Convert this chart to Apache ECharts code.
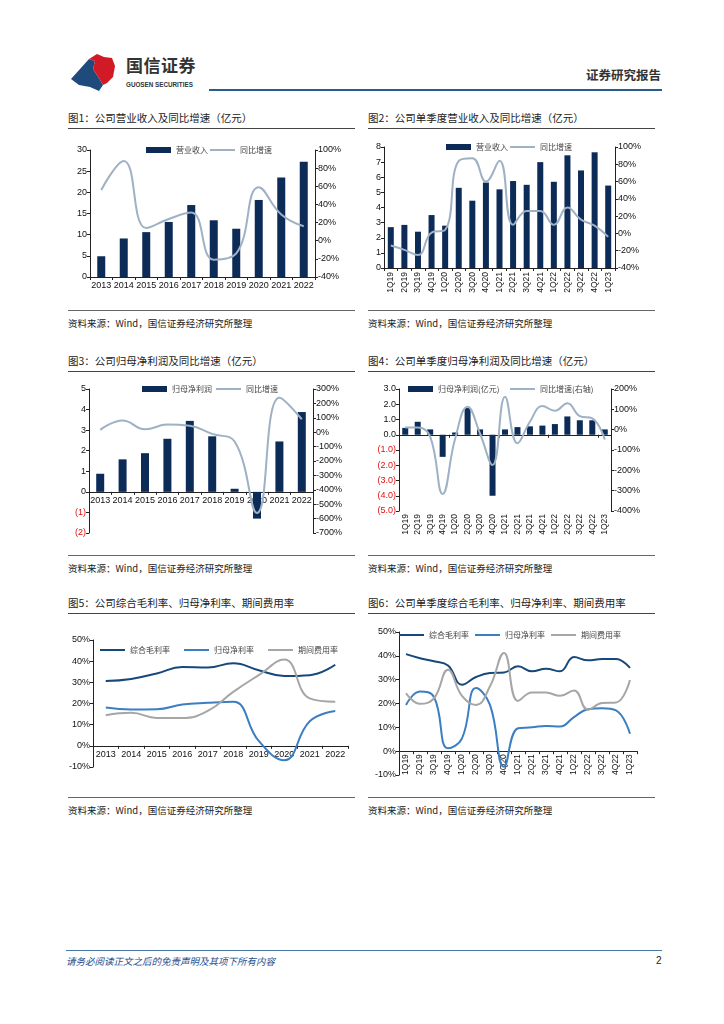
<!DOCTYPE html>
<html><head><meta charset="utf-8">
<script src="https://cdn.jsdelivr.net/npm/echarts@6/dist/echarts.min.js"></script>
<style>
html,body{margin:0;padding:0;background:#fff;}
body{width:724px;height:1024px;position:relative;overflow:hidden;font-family:"Noto Sans CJK SC","Liberation Sans",sans-serif;}
.abs{position:absolute;}
.title{position:absolute;font-size:10.5px;color:#222;white-space:nowrap;line-height:12px;}
.src{position:absolute;font-size:9.5px;color:#222;white-space:nowrap;line-height:12px;}
.hl{position:absolute;height:1px;background:#444;}
.chart{position:absolute;width:300px;height:180px;}
</style></head>
<body>
<!-- header -->
<svg class="abs" style="left:68px;top:50px" width="52" height="44" viewBox="0 0 52 44">
  <path d="M3 29 L21 9 L27 11 L25 19 L31 28 L35 35 L31 41 L22 37 L11 35 Z" fill="#1e4b7c"/>
  <path d="M21 9 L29 4 L36 7 L44 8 L47 16 L45 27 L39 33 L35 35 L31 28 L25 19 L27 11 Z" fill="#d21a26"/>
</svg>
<div class="abs" style="left:126px;top:55px;font-size:17px;font-weight:bold;color:#333;letter-spacing:0.5px;line-height:20px;">国信证券</div>
<div class="abs" style="left:126px;top:81px;font-size:6.3px;font-weight:bold;color:#333;font-family:'Liberation Sans';line-height:8px;">GUOSEN SECURITIES</div>
<div class="abs" style="left:586px;top:67px;font-size:12.5px;font-weight:bold;color:#333;line-height:15px;">证券研究报告</div>
<div class="abs" style="left:209px;top:89px;width:453px;height:2px;background:#2a5b8e;"></div>

<!-- row 1 -->
<div class="title" style="left:68px;top:112px;">图1：公司营业收入及同比增速（亿元）</div>
<div class="hl" style="left:68px;top:128px;width:287px;"></div>
<div class="title" style="left:368px;top:112px;">图2：公司单季度营业收入及同比增速（亿元）</div>
<div class="hl" style="left:368px;top:128px;width:287px;"></div>
<div id="c1" class="chart" style="left:60px;top:130px;height:178px;"></div>
<div id="c2" class="chart" style="left:360px;top:130px;height:178px;"></div>
<div class="hl" style="left:68px;top:310px;width:287px;background:#666;"></div>
<div class="hl" style="left:368px;top:310px;width:287px;background:#666;"></div>
<div class="src" style="left:68px;top:317px;">资料来源：Wind，国信证券经济研究所整理</div>
<div class="src" style="left:368px;top:317px;">资料来源：Wind，国信证券经济研究所整理</div>

<!-- row 2 -->
<div class="title" style="left:68px;top:355px;">图3：公司归母净利润及同比增速（亿元）</div>
<div class="hl" style="left:68px;top:371px;width:287px;"></div>
<div class="title" style="left:368px;top:355px;">图4：公司单季度归母净利润及同比增速（亿元）</div>
<div class="hl" style="left:368px;top:371px;width:287px;"></div>
<div id="c3" class="chart" style="left:60px;top:373px;"></div>
<div id="c4" class="chart" style="left:360px;top:373px;"></div>
<div class="hl" style="left:68px;top:555px;width:287px;background:#666;"></div>
<div class="hl" style="left:368px;top:555px;width:287px;background:#666;"></div>
<div class="src" style="left:68px;top:562px;">资料来源：Wind，国信证券经济研究所整理</div>
<div class="src" style="left:368px;top:562px;">资料来源：Wind，国信证券经济研究所整理</div>

<!-- row 3 -->
<div class="title" style="left:68px;top:597px;">图5：公司综合毛利率、归母净利率、期间费用率</div>
<div class="hl" style="left:68px;top:613px;width:287px;"></div>
<div class="title" style="left:368px;top:597px;">图6：公司单季度综合毛利率、归母净利率、期间费用率</div>
<div class="hl" style="left:368px;top:613px;width:287px;"></div>
<div id="c5" class="chart" style="left:60px;top:615px;"></div>
<div id="c6" class="chart" style="left:360px;top:615px;"></div>
<div class="hl" style="left:68px;top:797px;width:287px;background:#666;"></div>
<div class="hl" style="left:368px;top:797px;width:287px;background:#666;"></div>
<div class="src" style="left:68px;top:804px;">资料来源：Wind，国信证券经济研究所整理</div>
<div class="src" style="left:368px;top:804px;">资料来源：Wind，国信证券经济研究所整理</div>

<!-- footer -->
<div class="abs" style="left:66px;top:950px;width:596px;height:1px;background:#4a78a6;"></div>
<div class="abs" style="left:66px;top:955px;font-size:9.5px;font-style:italic;color:#1f4e8c;line-height:12px;">请务必阅读正文之后的免责声明及其项下所有内容</div>
<div class="abs" style="left:656px;top:955px;font-size:10px;color:#222;font-family:'Liberation Sans';line-height:12px;">2</div>

<script>
// ---------- data ----------
const years = ['2013','2014','2015','2016','2017','2018','2019','2020','2021','2022'];
const quarters = ['1Q19','2Q19','3Q19','4Q19','1Q20','2Q20','3Q20','4Q20','1Q21','2Q21','3Q21','4Q21','1Q22','2Q22','3Q22','4Q22','1Q23'];

const revenueAnnual = [4.9, 9.1, 10.6, 13.0, 17.0, 13.4, 11.4, 18.2, 23.5, 27.2];
const revenueAnnualYoy = [56, 88, 14, 24, 31, -21, -14, 59, 29, 16];

const revenueQuarter = [2.7, 2.85, 2.4, 3.5, 2.8, 5.3, 4.45, 5.65, 5.2, 5.75, 5.5, 7.0, 5.7, 7.45, 6.45, 7.65, 5.45];
const revenueQuarterYoy = [-14, -19, -25, 1, 4, 84, 87, 60, 84, 10, 26, 26, 10, 30, 16, 9, -4];

const profitAnnual = [0.88, 1.58, 1.88, 2.58, 3.45, 2.7, 0.15, -1.3, 2.45, 3.88];
const profitAnnualYoy = [16, 81, 20, 53, 44, -12, -65, -561, 240, 90];

const profitQuarter = [0.45, 0.85, 0.35, -1.45, 0.15, 1.75, 0.35, -4.0, 0.35, 0.5, 0.55, 0.6, 0.7, 1.2, 0.95, 0.95, 0.35];
const profitQuarterYoy = [11, 11, -34, -316, -45, 113, -20, -174, 162, -67, 39, 116, 93, 130, 67, 56, -48];

const grossAnnual = [30.6, 31.6, 34.2, 37.3, 37.0, 39.0, 35.7, 33.0, 33.4, 38.3];
const netAnnual = [18.1, 17.2, 17.3, 19.5, 20.3, 20.8, 2.3, -6.8, 11.6, 16.5];
const expenseAnnual = [14.5, 15.6, 13.2, 13.1, 16.5, 25.5, 33.4, 40.8, 22.4, 20.8];

const grossQuarter = [40.7, 39.0, 37.7, 35.9, 27.9, 31.1, 32.8, 33.0, 35.6, 33.5, 34.6, 33.5, 39.5, 38.1, 38.7, 38.7, 34.9];
const netQuarter = [19.4, 25.0, 22.7, 1.2, 5.4, 26.5, 19.4, -6.5, 9.6, 10.0, 10.6, 10.3, 14.3, 17.6, 18.0, 17.1, 7.3];
const expenseQuarter = [24.3, 19.9, 22.2, 34.2, 23.2, 19.4, 27.2, 41.2, 21.1, 24.6, 24.6, 23.2, 25.5, 17.4, 20.2, 20.4, 29.9];

// ---------- styles ----------
const NAVY = '#0c2b57';
const YOY = '#9fb1c5';
const C_GROSS = '#17487a';
const C_NET = '#3b7ec2';
const C_EXP = '#a6a6a6';
const NUMFONT = 'Liberation Sans';
const LBL = {fontFamily: NUMFONT, fontSize: 9, color: '#111'};
const AX_LINE = {show: true, onZero: false, lineStyle: {color: '#222', width: 1}};
const AX_TICK = {show: true, length: 3, lineStyle: {color: '#222'}};
const LEG_TEXT = {fontFamily: 'Noto Sans CJK SC', fontSize: 8, color: '#444'};
const CH = 180;

// offset (px) that lifts a bottom x axis to the value-axis zero line
function zeroLift(grid, min, max, h) {
  const gh = (h || CH) - grid.top - grid.bottom;
  return -((0 - min) / (max - min)) * gh;
}
function xCat(data, extra) {
  return Object.assign({
    type: 'category', data: data, boundaryGap: true, position: 'bottom',
    axisLine: AX_LINE,
    axisTick: AX_TICK,
    axisLabel: Object.assign({interval: 0, margin: 4}, LBL),
    splitLine: {show: false}
  }, extra || {});
}
function yVal(min, max, interval, fmt, pos, extraLabel) {
  return {
    type: 'value', min: min, max: max, interval: interval, position: pos,
    axisLine: AX_LINE, axisTick: AX_TICK,
    axisLabel: Object.assign({formatter: fmt, margin: 3}, LBL, extraLabel || {}),
    splitLine: {show: false}
  };
}
const pct = v => v + '%';
const neg0 = v => v < 0 ? '(' + Math.abs(v) + ')' : String(v);
const neg1 = v => v < 0 ? '(' + Math.abs(v).toFixed(1) + ')' : v.toFixed(1);
const redNeg = {color: (v) => Number(v) < 0 ? '#e01010' : '#111'};
const LINE_ICON = 'rect';

function barSeries(name, data, w) {
  return {name: name, type: 'bar', data: data, barWidth: w, itemStyle: {color: NAVY}, yAxisIndex: 0};
}
function lineSeries(name, data, color, yIdx) {
  return {name: name, type: 'line', data: data, smooth: 0.45, symbol: 'none', showSymbol: false,
    yAxisIndex: yIdx || 0, lineStyle: {color: color, width: 2}, itemStyle: {color: color}, z: 5};
}
// bar legend + line legend side by side
function comboLegend(left, top, barName, lineName, barTextW) {
  return [
    {left: left, top: top, itemWidth: 25, itemHeight: 6, padding: 0, textStyle: LEG_TEXT,
      data: [{name: barName, icon: 'rect'}]},
    {left: left + 25 + 3 + barTextW, top: top, itemWidth: 25, itemHeight: 2, padding: 0, textStyle: LEG_TEXT,
      data: [{name: lineName, icon: LINE_ICON}]}
  ];
}
function lineLegend(left, top, names, gap) {
  return {left: left, top: top, itemGap: gap, itemWidth: 25, itemHeight: 2, padding: 0,
    textStyle: LEG_TEXT, data: names.map(n => ({name: n, icon: LINE_ICON}))};
}

// ---------- chart 1 ----------
echarts.init(document.getElementById('c1')).setOption({
  animation: false,
  grid: {left: 30, right: 45, top: 20, bottom: 31},
  legend: comboLegend(86, 16, '营业收入', '同比增速', 36),
  xAxis: xCat(years),
  yAxis: [yVal(0, 30, 5, null, 'left'), yVal(-40, 100, 20, pct, 'right')],
  series: [barSeries('营业收入', revenueAnnual, 8), lineSeries('同比增速', revenueAnnualYoy, YOY, 1)]
});

// ---------- chart 2 ----------
echarts.init(document.getElementById('c2')).setOption({
  animation: false,
  grid: {left: 24, right: 45, top: 17, bottom: 40},
  legend: comboLegend(86, 13, '营业收入', '同比增速', 36),
  xAxis: xCat(quarters, {axisLabel: Object.assign({interval: 0, rotate: 90, margin: 4}, LBL, {fontSize: 8.5})}),
  yAxis: [yVal(0, 8, 1, null, 'left'), yVal(-40, 100, 20, pct, 'right')],
  series: [barSeries('营业收入', revenueQuarter, 6), lineSeries('同比增速', revenueQuarterYoy, YOY, 1)]
});

// ---------- chart 3 ----------
const g3 = {left: 29, right: 47, top: 16, bottom: 20};
echarts.init(document.getElementById('c3')).setOption({
  animation: false,
  grid: g3,
  legend: comboLegend(82, 12, '归母净利润', '同比增速', 46),
  xAxis: xCat(years, {offset: zeroLift(g3, -2, 5)}),
  yAxis: [yVal(-2, 5, 1, neg0, 'left', redNeg), yVal(-700, 300, 100, pct, 'right')],
  series: [barSeries('归母净利润', profitAnnual, 8), lineSeries('同比增速', profitAnnualYoy, YOY, 1)]
});

// ---------- chart 4 ----------
const g4 = {left: 39, right: 49, top: 16, bottom: 42};
echarts.init(document.getElementById('c4')).setOption({
  animation: false,
  grid: g4,
  legend: comboLegend(48, 12, '归母净利润(亿元)', '同比增速(右轴)', 74),
  xAxis: [
    xCat(quarters, {offset: zeroLift(g4, -5, 3), axisLabel: {show: false}}),
    xCat(quarters, {axisLine: {show: false}, axisTick: {show: false},
      axisLabel: Object.assign({interval: 0, rotate: 90, margin: 3}, LBL, {fontSize: 8.5})})
  ],
  yAxis: [yVal(-5, 3, 1, neg1, 'left', redNeg), yVal(-400, 200, 100, pct, 'right')],
  series: [barSeries('归母净利润(亿元)', profitQuarter, 6), lineSeries('同比增速(右轴)', profitQuarterYoy, YOY, 1)]
});

// ---------- chart 5 ----------
const g5 = {left: 33, right: 12, top: 25, bottom: 28};
echarts.init(document.getElementById('c5')).setOption({
  animation: false,
  grid: g5,
  legend: lineLegend(40, 31, ['综合毛利率', '归母净利率', '期间费用率'], 14),
  xAxis: xCat(years, {offset: zeroLift(g5, -10, 50)}),
  yAxis: [yVal(-10, 50, 10, pct, 'left')],
  series: [
    lineSeries('综合毛利率', grossAnnual, C_GROSS),
    lineSeries('归母净利率', netAnnual, C_NET),
    lineSeries('期间费用率', expenseAnnual, C_EXP)
  ]
});

// ---------- chart 6 ----------
const g6 = {left: 39, right: 23, top: 17, bottom: 20};
echarts.init(document.getElementById('c6')).setOption({
  animation: false,
  grid: g6,
  legend: lineLegend(39, 16, ['综合毛利率', '归母净利率', '期间费用率'], 6),
  xAxis: xCat(quarters, {offset: zeroLift(g6, -10, 50),
    axisLabel: Object.assign({interval: 0, rotate: 90, margin: 3}, LBL, {fontSize: 8.5})}),
  yAxis: [yVal(-10, 50, 10, pct, 'left')],
  series: [
    lineSeries('综合毛利率', grossQuarter, C_GROSS),
    lineSeries('归母净利率', netQuarter, C_NET),
    lineSeries('期间费用率', expenseQuarter, C_EXP)
  ]
});
</script>
</body></html>
